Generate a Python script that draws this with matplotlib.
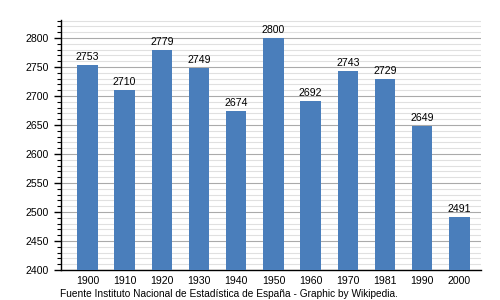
import numpy as np
import matplotlib.pyplot as plt
from matplotlib.ticker import MultipleLocator

years = ['1900', '1910', '1920', '1930', '1940', '1950', '1960', '1970', '1981', '1990', '2000']
population = [2753, 2710, 2779, 2749, 2674, 2800, 2692, 2743, 2729, 2649, 2491]

plt.rcParams['font.family'] = ['Liberation Sans', 'DejaVu Sans']

fig = plt.figure(figsize=(5, 3), dpi=100)
ax = fig.add_axes([0.122, 0.1, 0.84, 0.833])

x = np.arange(len(years))
ax.bar(x, population, width=0.55, color='#4a7ebb', zorder=3)
for xi, v in zip(x, population):
    ax.text(xi, v + 5, str(v), ha='center', va='bottom', fontsize=7.6, color='black', zorder=4)

ax.set_ylim(2400, 2831)
ax.set_xlim(-0.71, 10.58)
ax.set_xticks(x)
ax.set_xticklabels(years)
ax.yaxis.set_major_locator(MultipleLocator(50))
ax.yaxis.set_minor_locator(MultipleLocator(10))
ax.grid(axis='y', which='major', color='#aaaaaa', lw=0.8, zorder=0)
ax.grid(axis='y', which='minor', color='#e0e0e0', lw=0.8, zorder=0)
ax.tick_params(axis='x', length=0, labelsize=7.6, pad=4)
ax.tick_params(axis='y', which='major', length=5, labelsize=7.6, width=1)
ax.tick_params(axis='y', which='minor', length=3, width=0.8)
for s in ['top', 'right']:
    ax.spines[s].set_visible(False)
ax.spines['left'].set_linewidth(1)
ax.spines['bottom'].set_linewidth(1)

fig.text(0.12, 0.004, 'Fuente Instituto Nacional de Estadística de España - Graphic by Wikipedia.',
         fontsize=7.3, ha='left', va='bottom')

fig.savefig('out.png')
